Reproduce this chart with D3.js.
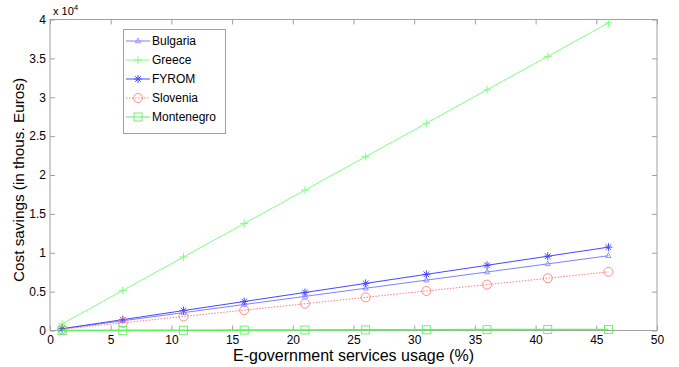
<!DOCTYPE html>
<html>
<head>
<meta charset="utf-8">
<script src="https://cdn.jsdelivr.net/npm/d3@7"></script>
<style>
  html, body { margin: 0; padding: 0; background: #fff; }
  svg { display: block; font-family: "Liberation Sans", Arial, sans-serif; }
</style>
</head>
<body>
<svg id="chart" width="679" height="367"></svg>
<script>
// E-government usage levels (%)
const usage = [1, 6, 11, 16, 21, 26, 31, 36, 41, 46];

// Cost savings per country (thousand euros)
const bulgaria   = [209, 1254, 2299, 3344, 4389, 5434, 6479, 7524, 8569, 9614];
const greece     = [860, 5160, 9460, 13760, 18060, 22360, 26660, 30960, 35260, 39560];
const fyrom      = [233, 1398, 2563, 3728, 4893, 6058, 7223, 8388, 9553, 10718];
const slovenia   = [164, 984, 1804, 2624, 3444, 4264, 5084, 5904, 6724, 7544];
const montenegro = [3, 18, 33, 48, 63, 78, 93, 108, 123, 138];

const xTicks = [0, 5, 10, 15, 20, 25, 30, 35, 40, 45, 50];
const yTicks = [0, 5000, 10000, 15000, 20000, 25000, 30000, 35000, 40000];

const series = [
  { name: "Bulgaria",   values: bulgaria,   color: "#8080ff", dash: null,  marker: "triangle" },
  { name: "Greece",     values: greece,     color: "#80ff80", dash: null,  marker: "plus" },
  { name: "FYROM",      values: fyrom,      color: "#4848ff", dash: null,  marker: "star" },
  { name: "Slovenia",   values: slovenia,   color: "#ff8080", dash: "1.5,1.5", marker: "circle" },
  { name: "Montenegro", values: montenegro, color: "#60f060", dash: null,  marker: "square" }
];

const svg = d3.select("#chart");
const plotL = 50, plotR = 657, plotT = 19.5, plotB = 330.5;
const x = d3.scaleLinear().domain([0, 50]).range([plotL, plotR]);
const y = d3.scaleLinear().domain([0, 40000]).range([plotB, plotT]);
const axisColor = "#a0a0a0";

// Frame and ticks
svg.append("rect")
  .attr("x", plotL).attr("y", plotT)
  .attr("width", plotR - plotL).attr("height", plotB - plotT)
  .attr("fill", "none").attr("stroke", axisColor).attr("stroke-width", 1);

const xAxis = d3.axisBottom(x).tickValues(xTicks).tickSize(-5).tickPadding(3).tickFormat(d3.format("d"));
const gx = svg.append("g").attr("transform", `translate(0,${plotB})`).call(xAxis);
const xAxisTop = d3.axisTop(x).tickValues(xTicks).tickSize(-5).tickFormat("");
const gxt = svg.append("g").attr("transform", `translate(0,${plotT})`).call(xAxisTop);

const yAxis = d3.axisLeft(y).tickValues(yTicks).tickSize(-5).tickPadding(4).tickFormat(d => d / 10000);
const gy = svg.append("g").attr("transform", `translate(${plotL},0)`).call(yAxis);
const yAxisRight = d3.axisRight(y).tickValues(yTicks).tickSize(-5).tickFormat("");
const gyr = svg.append("g").attr("transform", `translate(${plotR},0)`).call(yAxisRight);

[gx, gxt, gy, gyr].forEach(g => {
  g.select(".domain").remove();
  g.selectAll(".tick line").attr("stroke", axisColor);
  g.selectAll(".tick text")
    .attr("fill", "#000")
    .style("font-family", "Liberation Sans, Arial, sans-serif")
    .style("font-size", "12px");
});
gx.selectAll(".tick text").attr("dy", "0.85em");

// Exponent label
const expo = svg.append("text").attr("x", 53).attr("y", 15)
  .style("font-size", "11px").attr("fill", "#000");
expo.append("tspan").text("x 10");
expo.append("tspan").attr("dy", -5).style("font-size", "8px").text("4");

// Axis titles
svg.append("text")
  .attr("x", (plotL + plotR) / 2).attr("y", 361)
  .attr("text-anchor", "middle")
  .style("font-size", "16px").attr("fill", "#000")
  .text("E-government services usage (%)");

svg.append("text")
  .attr("transform", `translate(24,180) rotate(-90)`)
  .attr("text-anchor", "middle")
  .style("font-size", "15.3px").attr("fill", "#000")
  .text("Cost savings (in thous. Euros)");

// Marker drawing
function drawMarker(g, type, cx, cy, color) {
  const s = 4;
  if (type === "triangle") {
    g.append("path")
      .attr("d", `M${cx},${cy - 3} L${cx + 2.6},${cy + 1.8} L${cx - 2.6},${cy + 1.8} Z`)
      .attr("fill", "none").attr("stroke", color).attr("stroke-width", 0.8);
  } else if (type === "plus") {
    g.append("path")
      .attr("d", `M${cx - s},${cy} H${cx + s} M${cx},${cy - s} V${cy + s}`)
      .attr("stroke", color).attr("stroke-width", 1);
  } else if (type === "star") {
    const r = 4, d = r * 0.7;
    g.append("path")
      .attr("d", `M${cx},${cy - r} V${cy + r} M${cx - d},${cy - d} L${cx + d},${cy + d} M${cx - d},${cy + d} L${cx + d},${cy - d} M${cx - r},${cy} H${cx + r}`)
      .attr("stroke", color).attr("stroke-width", 1);
  } else if (type === "circle") {
    g.append("circle").attr("cx", cx).attr("cy", cy).attr("r", 4.5)
      .attr("fill", "none").attr("stroke", color).attr("stroke-width", 0.9);
  } else if (type === "square") {
    g.append("rect").attr("x", cx - 4).attr("y", cy - 4).attr("width", 8).attr("height", 8)
      .attr("fill", "none").attr("stroke", color).attr("stroke-width", 0.9);
  }
}

const line = d3.line().x((d, i) => x(usage[i])).y(d => y(d));
const gLines = svg.append("g");
series.forEach(s => {
  gLines.append("path")
    .datum(s.values)
    .attr("d", line)
    .attr("fill", "none")
    .attr("stroke", s.color)
    .attr("stroke-width", s.name === "Montenegro" ? 1.6 : 1)
    .attr("stroke-dasharray", s.dash);
  s.values.forEach((v, i) => drawMarker(gLines, s.marker, x(usage[i]), y(v), s.color));
});

// Legend
const lg = svg.append("g");
lg.append("rect").attr("x", 123.5).attr("y", 29.5).attr("width", 102).attr("height", 104)
  .attr("fill", "#fff").attr("stroke", axisColor).attr("stroke-width", 1);
series.forEach((s, i) => {
  const ly = 41 + i * 19;
  lg.append("line").attr("x1", 126).attr("x2", 150).attr("y1", ly).attr("y2", ly)
    .attr("stroke", s.color).attr("stroke-width", 1).attr("stroke-dasharray", s.dash);
  drawMarker(lg, s.marker, 138, ly, s.color);
  lg.append("text").attr("x", 152).attr("y", ly + 4)
    .style("font-size", "12px").attr("fill", "#000").text(s.name);
});
</script>
</body>
</html>
